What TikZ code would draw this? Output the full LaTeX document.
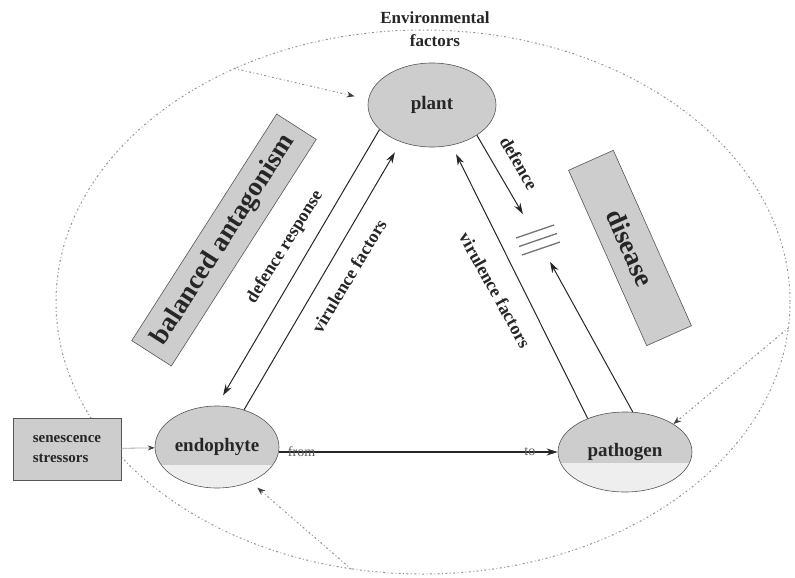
\documentclass[tikz,border=0pt]{standalone}
\usepackage{fontspec}
\setmainfont{Liberation Serif}
\usetikzlibrary{arrows.meta, shapes.geometric}

\definecolor{nodegray}{HTML}{CDCDCD}
\definecolor{palegray}{HTML}{EEEEEE}
\definecolor{edgegray}{HTML}{555555}

\begin{document}
\begin{tikzpicture}[x=1pt, y=-1pt, ->, >={Stealth[length=11pt,width=7pt]}, semithick,
		organism/.style={ellipse, draw=edgegray, fill=nodegray, inner sep=0pt, text=black!85, font=\bfseries\fontsize{19}{22}\selectfont},
		halftone/.style={fill=palegray, path picture={\fill[nodegray] (path picture bounding box.north west) rectangle ([yshift=#1]path picture bounding box.east);}},
		outcome/.style={rectangle, draw=edgegray, fill=nodegray, inner sep=0pt, text=black!85, font=\bfseries\fontsize{27}{30}\selectfont},
		lbl/.style={inner sep=0pt, text=black!85, font=\bfseries\fontsize{18}{20}\selectfont},
		link/.style={draw=black!85, line width=1pt},
		envlink/.style={draw=gray!85, line width=1pt, dash pattern=on 2pt off 2.5pt on 0.8pt off 2.5pt, >={Stealth[length=8pt,width=6pt,color=black!75]}},
		blocked/.style={-, draw=gray!90!black, line width=1.3pt}]
		\useasboundingbox (0,0) rectangle (795,578);

		\node[ellipse, envlink, minimum width=734pt, minimum height=544pt] (env) at (423,302) {};
		\node[lbl, align=center, font=\bfseries\fontsize{17}{23}\selectfont] (envtext) at (435,29) {Environmental\\factors};

		\node[organism, minimum width=128pt, minimum height=84pt] (plant) at (432,105) {plant};
		\node[organism, halftone=-18pt, minimum width=124pt, minimum height=82pt] (endo) at (217,447) {endophyte};
		\node[organism, halftone=-11pt, minimum width=134pt, minimum height=80pt] (patho) at (625,452) {pathogen};
		\node[rectangle, draw=edgegray, fill=nodegray, minimum width=108pt, minimum height=62pt, align=left, text=black!85, font=\bfseries\fontsize{15}{20}\selectfont] (sen) at (67,449) {senescence\\stressors};

		\node[outcome, minimum width=269pt, minimum height=47pt, rotate=57.4] (balance) at (224,240) {balanced antagonism};
		\node[outcome, minimum width=192pt, minimum height=49pt, rotate=-66] (disease) at (630,248) {disease};

		% endophyte <-> plant
		\draw[link, shorten >=12pt] (plant.205) -- (endo.90);
		\node[lbl, rotate=58] (defresp) at (285,247) {defence response};
		\draw[link, shorten >=12pt] (endo.54) -- (plant.230);
		\node[lbl, rotate=59] (virendo) at (349,276) {virulence factors};

		% pathogen <-> plant
		\draw[link, shorten >=10pt] (patho.138) -- (plant.296);
		\node[lbl, rotate=-61] (virpatho) at (495,290) {virulence factors};
		\coordinate (blk) at (538,240);
		\draw[link, shorten >=30pt] (plant.326) -- (blk);
		\node[lbl, rotate=-60] (def) at (519,163) {defence};
		\draw[link, shorten >=25pt] (patho.79) -- (blk);
		\foreach \d in {-9,0,9}
			\draw[blocked] ([shift={(0.32*\d-19, 0.95*\d+6.5)}]blk) -- ++(38,-13);

		% endophyte -> pathogen
		\draw[link, line width=1.3pt] (endo.east |- patho.west) -- (patho.west)
			node[pos=0.08, inner sep=0pt, text=gray!70!black, font=\fontsize{14}{16}\selectfont] {from}
			node[pos=0.9, inner sep=0pt, text=gray!70!black, font=\fontsize{14}{16}\selectfont] {to};
		\draw[draw=gray!70, line width=0.8pt, >={Stealth[length=7pt,width=5pt,color=black!75]}] (sen) -- (endo);

		% environment
		\draw[envlink, shorten >=14pt] (env.129) -- (plant.175);
		\draw[envlink] (env.356) -- (patho.30);
		\draw[envlink, shorten >=9pt] (env.255) -- (endo.314);
\end{tikzpicture}
\end{document}
